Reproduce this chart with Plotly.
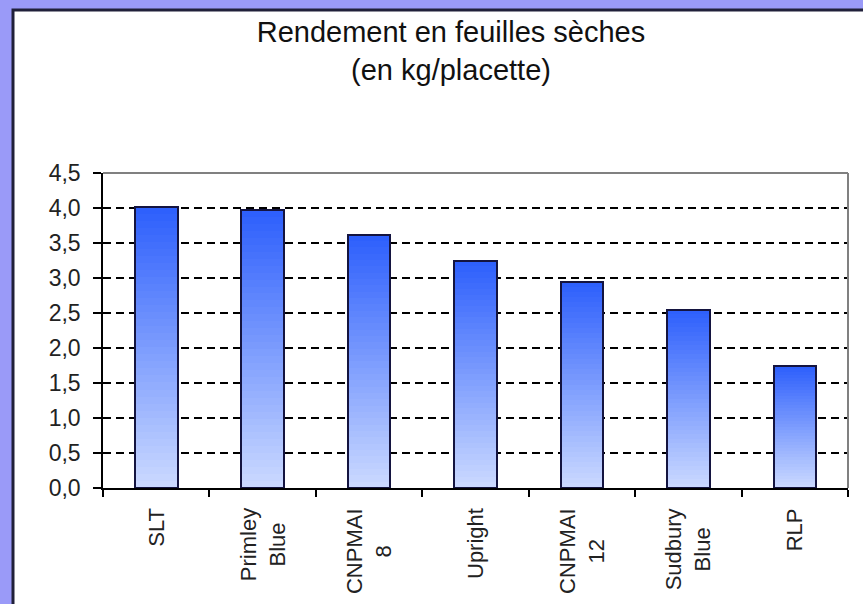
import plotly.graph_objects as go

# ---- data ----
categories = ["SLT", "Primley Blue", "CNPMAI 8", "Upright", "CNPMAI 12", "Sudbury Blue", "RLP"]
x_labels = ["SLT", "Primley<br>Blue", "CNPMAI<br>8", "Upright", "CNPMAI<br>12", "Sudbury<br>Blue", "RLP"]
values = [4.02, 3.97, 3.62, 3.25, 2.95, 2.55, 1.75]
y_tickvals = [0.0, 0.5, 1.0, 1.5, 2.0, 2.5, 3.0, 3.5, 4.0, 4.5]
y_ticktext = ["0,0", "0,5", "1,0", "1,5", "2,0", "2,5", "3,0", "3,5", "4,0", "4,5"]
title_text = "Rendement en feuilles sèches<br>(en kg/placette)"

# ---- style ----
W, H = 863, 604
L, R, T, B = 103, 15, 173, 116
PW, PH = W - L - R, H - T - B
top_rgb = (44, 94, 252)
bot_rgb = (204, 218, 255)
N = 40
FONT = "Liberation Sans, Arial, sans-serif"

def mix(k):
    f = (k + 0.5) / N
    return "rgb(%d,%d,%d)" % tuple(round(b + (t - b) * f) for t, b in zip(top_rgb, bot_rgb))

fig = go.Figure()
# gradient fill: each bar split into N stacked slices of equal height
for k in range(N):
    fig.add_trace(go.Bar(
        x=categories, y=[v / N for v in values],
        marker=dict(color=mix(k), line=dict(width=0)),
        showlegend=False, hoverinfo="skip",
    ))
# outline of each bar
fig.add_trace(go.Bar(
    x=categories, y=values, xaxis="x2",
    marker=dict(color="rgba(0,0,0,0)", line=dict(color="#141440", width=2)),
    showlegend=False, hoverinfo="skip",
))

# rotated, centre-aligned category labels
for cat, lab in zip(categories, x_labels):
    fig.add_annotation(x=cat, xref="x", y=0, yref="paper", yanchor="top", xanchor="center",
                       yshift=-18, text=lab, textangle=-90, align="center", showarrow=False,
                       font=dict(size=22, family=FONT, color="#222"))

px = lambda p: (p - L) / PW
py = lambda p: (H - B - p) / PH

fig.update_layout(
    width=W, height=H,
    margin=dict(l=L, r=R, t=T, b=B, autoexpand=False),
    paper_bgcolor="#9a9af8",
    plot_bgcolor="rgba(0,0,0,0)",
    barmode="stack", bargap=0.6,
    font=dict(family=FONT, color="#1a1a1a"),
    title=dict(text=title_text, x=451 / W, xref="container", xanchor="center",
               y=1 - 42 / H, yref="container", yanchor="top",
               font=dict(size=29, family=FONT, color="#111")),
    xaxis=dict(type="category", range=[-0.5, 6.5], showline=True, linecolor="black", linewidth=1.5,
               ticks="outside", tickson="boundaries", ticklen=7, tickcolor="black", tickwidth=1.5,
               showticklabels=False, showgrid=False, fixedrange=True),
    xaxis2=dict(type="category", overlaying="x", matches="x", visible=False, range=[-0.5, 6.5]),
    yaxis=dict(range=[0, 4.5], tickmode="array", tickvals=y_tickvals, ticktext=y_ticktext,
               showgrid=True, gridcolor="black", gridwidth=1.8, griddash="8px,5px",
               showline=True, linecolor="black", linewidth=1.5, zeroline=False,
               ticks="outside", ticklen=8, tickcolor="black", tickwidth=1.5,
               tickfont=dict(size=23, color="#222"), ticklabelstandoff=8),
    shapes=[
        dict(type="rect", xref="paper", yref="paper", x0=px(13), x1=1.2, y0=-0.6, y1=py(10),
             fillcolor="white", line=dict(color="#20203a", width=3), layer="below"),
        dict(type="line", xref="paper", yref="paper", x0=0, x1=1, y0=1, y1=1,
             line=dict(color="#808080", width=2), layer="above"),
        dict(type="line", xref="paper", yref="paper", x0=1, x1=1, y0=0, y1=1,
             line=dict(color="#808080", width=2), layer="above"),
    ],
)

fig.write_html("out.html", config={"displayModeBar": False},
               post_script="document.body.style.margin='0px';")
